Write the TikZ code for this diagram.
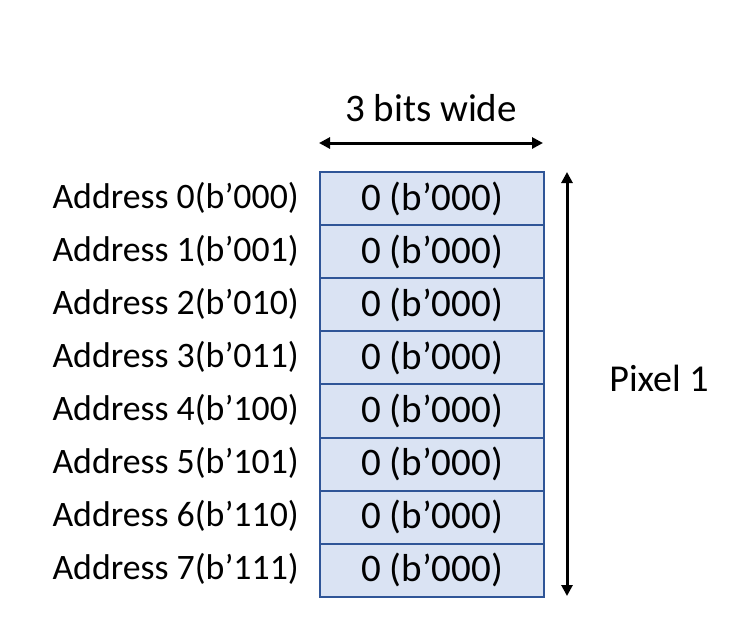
\documentclass[tikz,border=0pt]{standalone}
\usepackage{fontspec}
\setmainfont{Carlito}
\usetikzlibrary{arrows.meta}
\definecolor{cellfill}{HTML}{DAE3F3}
\definecolor{celldraw}{HTML}{2F5597}
\begin{document}
\begin{tikzpicture}[x=1pt,y=-1pt,
  cell/.style={draw=celldraw,fill=cellfill,line width=2pt,minimum width=224pt,minimum height=53.1pt,inner sep=0pt,font=\fontsize{39}{44}\selectfont,anchor=north west},
  addr/.style={anchor=east,inner sep=0pt,font=\fontsize{35.8}{40}\selectfont},
  lbl/.style={inner sep=0pt,font=\fontsize{39}{44}\selectfont},
  dim/.style={line width=3pt,{Triangle[width=11pt,length=11pt]}-{Triangle[width=11pt,length=11pt]}}]
\useasboundingbox (0,0) rectangle (745,633);
\foreach \i in {0,...,7}{
  \pgfmathsetmacro{\yy}{171+53.1*\i}
  \node[cell] (c\i) at (319,\yy) {0 (b’000)};
}
\node[addr] (a0) at (299,197.5) {Address 0(b’000)};
\node[addr] (a1) at (299,250.6) {Address 1(b’001)};
\node[addr] (a2) at (299,303.7) {Address 2(b’010)};
\node[addr] (a3) at (299,356.8) {Address 3(b’011)};
\node[addr] (a4) at (299,409.9) {Address 4(b’100)};
\node[addr] (a5) at (299,463.0) {Address 5(b’101)};
\node[addr] (a6) at (299,516.1) {Address 6(b’110)};
\node[addr] (a7) at (299,569.2) {Address 7(b’111)};
\coordinate (hl) at (319,143);
\coordinate (hr) at (543,143);
\draw[dim] (hl) -- (hr);
\node[lbl] (w) at (431,108) {3 bits wide};
\coordinate (vt) at (567,172);
\coordinate (vb) at (567,596);
\draw[dim] (vt) -- (vb);
\node[lbl,font=\fontsize{38}{42}\selectfont] (p) at (659,378) {Pixel 1};
\end{tikzpicture}
\end{document}
